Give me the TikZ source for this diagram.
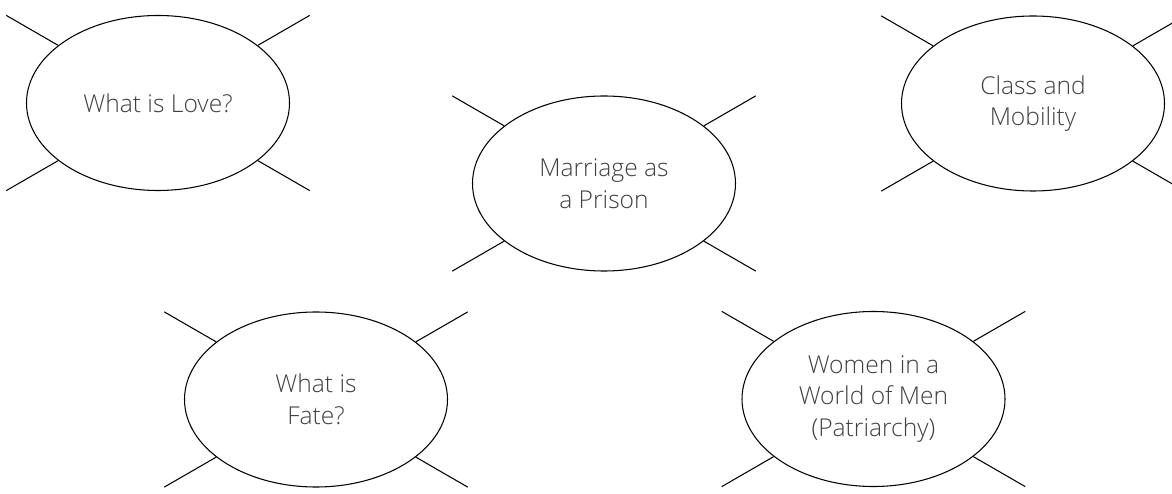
\documentclass[tikz,border=0pt]{standalone}
\usepackage{fontspec}
\IfFontExistsTF{Open Sans Light}{\setmainfont{Open Sans Light}}{\setmainfont{Open Sans}}
\usepackage{tikz}
\usetikzlibrary{shapes.geometric}

\begin{document}
\begin{tikzpicture}[
    theme/.style={draw, ellipse, line width=0.6pt, inner sep=0pt,
        minimum width=5.26cm, minimum height=3.5cm, align=center,
        text=black!75, font=\fontsize{14}{18}\selectfont},
    spoke/.style={line width=0.6pt}]

                \clip (0,0) rectangle (23.44,-9.88);

                % Nodes
                \node at (3.16,-2.06) (love) [theme] {What is Love?};
                \node at (12.08,-3.67) (prison) [theme] {Marriage as\\a Prison};
                \node at (20.66,-2.07) (class) [theme] {Class and\\Mobility};
                \node at (6.32,-7.99) (fate) [theme] {What is\\Fate?};
                \node at (17.47,-7.98) (women) [theme] {Women in a\\World of Men\\(Patriarchy)};

                % Spokes
                \foreach \n in {love,prison,class,fate,women}
                    \foreach \a in {30,150,210,330}
                        \draw[spoke] (\n.\a) -- ++(\a:1.2);

            \end{tikzpicture}
\end{document}
